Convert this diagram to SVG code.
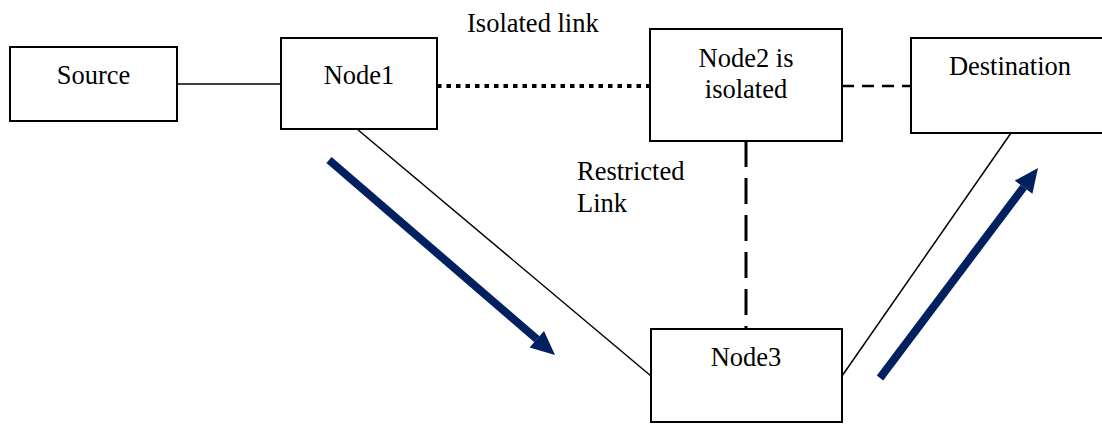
<svg xmlns="http://www.w3.org/2000/svg" width="1102" height="424" viewBox="0 0 1102 424">
<style>
.box{fill:#fff;stroke:#000;stroke-width:2}
.t{font-family:"Liberation Serif","Times New Roman",serif;font-size:26.5px;fill:#000}
.c{text-anchor:middle}
.thin{stroke:#000;stroke-width:1.5;fill:none}
.dot{stroke:#000;stroke-width:4;stroke-dasharray:4.5 5;fill:none}
.dash{stroke:#000;stroke-width:2.5;stroke-dasharray:12 8;fill:none}
.vdash{stroke:#000;stroke-width:3;stroke-dasharray:26 11;fill:none}
.flow{stroke:#00205F;stroke-width:8;fill:none}
.head{fill:#00205F}
</style>
<rect width="1102" height="424" fill="#fff"/>
<g id="connectors">
<line class="thin" x1="177" y1="84" x2="281" y2="84"/>
<line class="dot" x1="437" y1="86" x2="650" y2="86"/>
<line class="dash" x1="842" y1="86" x2="911" y2="86"/>
<line class="vdash" x1="746" y1="141" x2="746" y2="329"/>
<line class="thin" x1="357" y1="129" x2="651" y2="376"/>
<line class="thin" x1="842" y1="376" x2="1011" y2="133"/>
</g>
<g id="source"><rect class="box" x="10" y="47" width="167" height="74"/><text class="t c" x="93.5" y="84">Source</text></g>
<g id="node1"><rect class="box" x="281" y="38" width="156" height="91"/><text class="t c" x="359" y="84">Node1</text></g>
<g id="node2"><rect class="box" x="650" y="29" width="192" height="112"/><text class="t c" x="746" y="67">Node2 is</text><text class="t c" x="746" y="98">isolated</text></g>
<g id="destination"><rect class="box" x="911" y="38" width="198" height="95"/><text class="t c" x="1010" y="75">Destination</text></g>
<g id="node3"><rect class="box" x="651" y="329" width="191" height="93"/><text class="t c" x="746" y="366">Node3</text></g>
<g id="labels">
<text class="t" x="467" y="32">Isolated link</text>
<text class="t" x="577" y="180">Restricted</text>
<text class="t" x="577" y="212">Link</text>
</g>
<g id="flow-arrows">
<line class="flow" x1="329" y1="160" x2="537" y2="339.3"/>
<polygon class="head" points="555,355 529.6,347.6 544,331"/>
<line class="flow" x1="880" y1="378" x2="1023.6" y2="187.2"/>
<polygon class="head" points="1038,168 1032.4,193.8 1014.8,180.6"/>
</g>
</svg>
